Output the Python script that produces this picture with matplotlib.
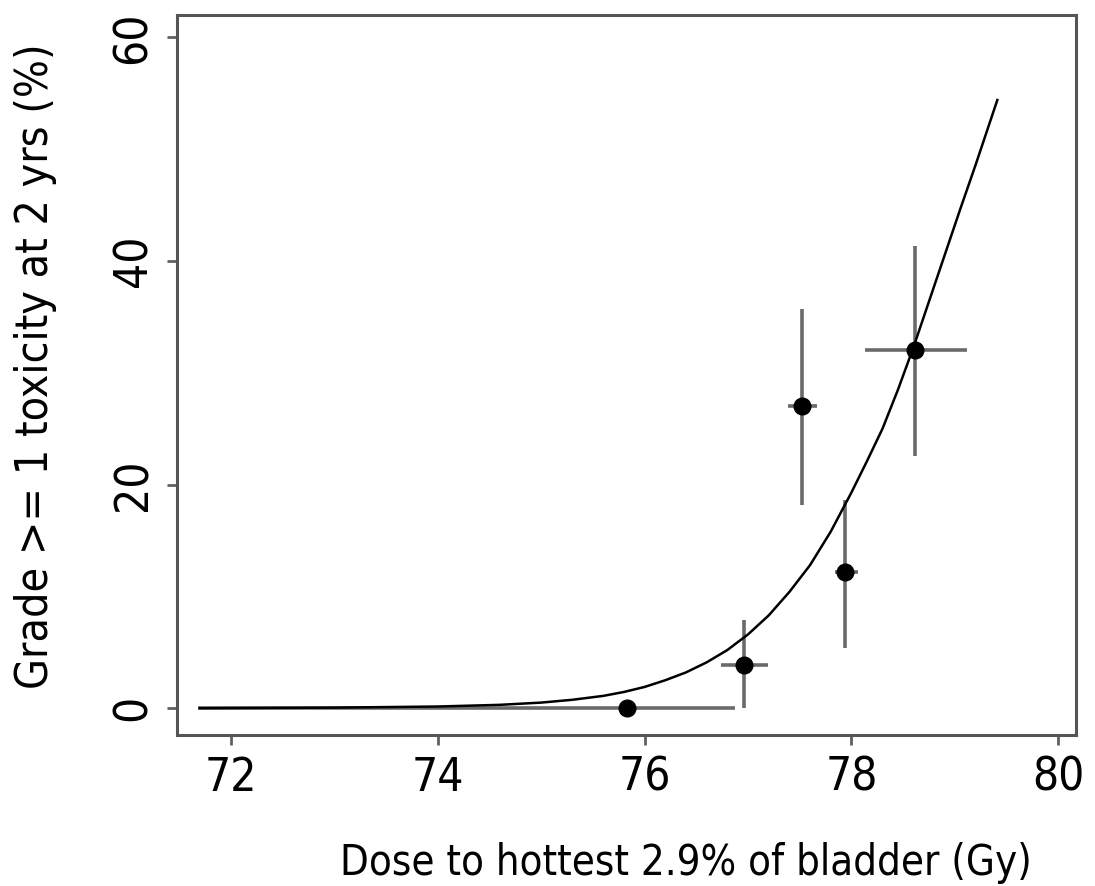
import numpy as np
import matplotlib.pyplot as plt
from matplotlib import font_manager

# DATA
##############################################################################
dose = [75.83, 76.96, 77.52, 77.94, 78.61]
tox = [0.0, 3.9, 27.0, 12.2, 32.0]
dose_lo = [71.68, 76.74, 77.39, 77.84, 78.13]
dose_hi = [76.87, 77.19, 77.67, 78.06, 79.12]
tox_lo = [0.0, 0.0, 18.2, 5.4, 22.6]
tox_hi = [0.0, 7.9, 35.7, 18.6, 41.3]

# fitted curve
curve_x = [71.7, 73.0, 74.0, 74.6, 75.0, 75.3, 75.6, 75.8, 76.0, 76.2,
           76.4, 76.6, 76.8, 77.0, 77.2, 77.4, 77.6, 77.8, 78.0, 78.15,
           78.3, 78.45, 78.6, 78.75, 78.9, 79.05, 79.2, 79.41]
curve_y = [0.0, 0.05, 0.15, 0.3, 0.5, 0.75, 1.1, 1.45, 1.9, 2.5,
           3.2, 4.1, 5.2, 6.6, 8.3, 10.4, 12.8, 15.8, 19.3, 22.1,
           25.0, 28.5, 32.3, 36.4, 40.5, 44.6, 48.6, 54.4]

xticks = [72, 74, 76, 78, 80]
yticks = [0, 20, 40, 60]

# PLOT
##############################################################################
names = set(f.name for f in font_manager.fontManager.ttflist)
if 'Liberation Sans Narrow' in names:
    fp = dict(family='Liberation Sans Narrow')
else:
    fp = dict(family='DejaVu Sans', stretch='condensed')

fig = plt.figure(figsize=(10.95, 8.86), dpi=100)
ax = fig.add_axes([0.1616, 0.1704, 0.821, 0.8126])

dose = np.array(dose)
tox = np.array(tox)
xerr = [dose - np.array(dose_lo), np.array(dose_hi) - dose]
yerr = [tox - np.array(tox_lo), np.array(tox_hi) - tox]

ax.errorbar(dose, tox, xerr=xerr, yerr=yerr, fmt='none', ecolor='#6a6a6a',
            elinewidth=2.6, capsize=0, zorder=2)
ax.plot(curve_x, curve_y, color='black', lw=1.8, zorder=3)
ax.plot(dose, tox, 'o', color='black', markersize=12, zorder=4)

ax.set_xlim(71.48, 80.17)
ax.set_ylim(-2.4, 62)
ax.set_xticks(xticks)
ax.set_yticks(yticks)
ax.set_xticklabels([str(t) for t in xticks], fontsize=33, **fp)
ax.set_yticklabels([str(t) for t in yticks], fontsize=33,
                   rotation=90, va='center', **fp)
ax.tick_params(axis='both', direction='out', length=7, width=2,
               color='#606060', pad=8)

for s in ax.spines.values():
    s.set_color('#555555')
    s.set_linewidth(2.2)

ax.set_xlabel('Dose to hottest 2.9% of bladder (Gy)', fontsize=30, **fp)
ax.set_ylabel('Grade >= 1 toxicity at 2 yrs (%)', fontsize=32, **fp)
ax.xaxis.set_label_coords(0.566, -0.148)
ax.yaxis.set_label_coords(-0.133, 0.5125)

plt.savefig('out.png', dpi=100)
